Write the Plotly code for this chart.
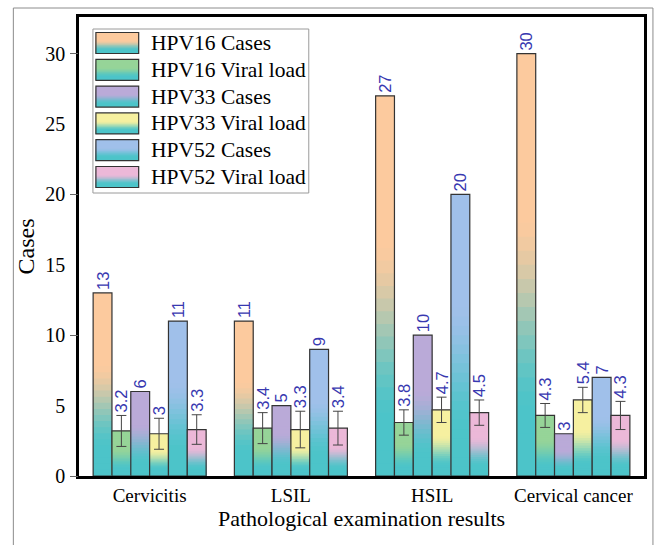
import plotly.graph_objects as go

# ---------------- data ----------------
categories = ["Cervicitis", "LSIL", "HSIL", "Cervical cancer"]
series_names = ["HPV16 Cases", "HPV16 Viral load", "HPV33 Cases",
                "HPV33 Viral load", "HPV52 Cases", "HPV52 Viral load"]
hpv16_cases = [13, 11, 27, 30]
hpv16_vl = [3.2, 3.4, 3.8, 4.3]
hpv16_vl_err = [1.1, 1.1, 0.9, 0.85]
hpv33_cases = [6, 5, 10, 3]
hpv33_vl = [3.0, 3.3, 4.7, 5.4]
hpv33_vl_err = [1.1, 1.3, 0.9, 0.9]
hpv52_cases = [11, 9, 20, 7]
hpv52_vl = [3.3, 3.4, 4.5, 4.3]
hpv52_vl_err = [1.05, 1.2, 0.9, 1.0]
y_ticks = [0, 5, 10, 15, 20, 25, 30]

series_values = [hpv16_cases, hpv16_vl, hpv33_cases, hpv33_vl, hpv52_cases, hpv52_vl]
series_errors = [None, hpv16_vl_err, None, hpv33_vl_err, None, hpv52_vl_err]

# ---------------- style ----------------
TEAL = (76, 196, 201)
TOPS = [(252, 202, 158), (150, 212, 152), (186, 170, 216),
        (246, 240, 160), (160, 192, 234), (236, 184, 216)]
LABEL_COLOR = "#3838b0"
SERIF = "Liberation Serif, Times New Roman, serif"
SANS = "Liberation Sans, Arial, sans-serif"
K = 30  # gradient steps


def grad(top, t):
    stops = [(0.0, TEAL), (0.15, TEAL), (0.62, top), (1.0, top)]
    for (t0, c0), (t1, c1) in zip(stops[:-1], stops[1:]):
        if t <= t1:
            f = 0 if t1 == t0 else (t - t0) / (t1 - t0)
            f = f * f * (3 - 2 * f)
            c = [round(a + (b - a) * f) for a, b in zip(c0, c1)]
            return "rgb(%d,%d,%d)" % tuple(c)
    return "rgb(%d,%d,%d)" % top


fig = go.Figure()

for s, (vals, errs, top) in enumerate(zip(series_values, series_errors, TOPS)):
    og = str(s)
    # gradient fill: nested bars from tallest to shortest
    for j in range(K, 0, -1):
        fig.add_trace(go.Bar(
            x=categories, y=[v * j / K for v in vals], offsetgroup=og,
            marker=dict(color=grad(top, (j - 0.5) / K), line=dict(width=0)),
            showlegend=False, hoverinfo="skip"))
    # outline (+ error bars)
    outline = dict(
        x=categories, y=vals, offsetgroup=og, name=series_names[s],
        marker=dict(color="rgba(0,0,0,0)", line=dict(color="#333333", width=1.2)),
        showlegend=False, cliponaxis=False)
    if errs is None:
        outline.update(text=["%g" % v for v in vals], textposition="outside",
                       textangle=-90, constraintext="none",
                       textfont=dict(family=SANS, size=16.5, color=LABEL_COLOR))
    else:
        outline.update(error_y=dict(type="data", array=errs, visible=True,
                                    color="#444444", thickness=1, width=5))
    fig.add_trace(go.Bar(**outline))
    if errs is not None:
        fig.add_trace(go.Bar(
            x=categories, y=[v + e for v, e in zip(vals, errs)], offsetgroup=og,
            marker=dict(color="rgba(0,0,0,0)", line=dict(width=0)),
            text=["%g" % v for v in vals], textposition="outside",
            textangle=-90, constraintext="none", cliponaxis=False,
            textfont=dict(family=SANS, size=16.5, color=LABEL_COLOR),
            showlegend=False, hoverinfo="skip"))

# helper trace for the secondary (tick-only) y axis
fig.add_trace(go.Scatter(x=[categories[0]], y=[None], yaxis="y2",
                         showlegend=False, hoverinfo="skip"))

# ---------------- custom legend ----------------
W, H = 659, 545
L, R, T, B = 79, 12, 17, 69
PW, PH = W - L - R, H - T - B


def px(x):
    return (x - L) / PW


def py(y):
    return (H - B - y) / PH


shapes = []
annotations = []
# outer gray frame of the figure
shapes.append(dict(type="rect", xref="paper", yref="paper",
                   x0=px(13), x1=px(656), y0=py(8), y1=py(560),
                   line=dict(color="#8c8c8c", width=1), fillcolor="rgba(0,0,0,0)",
                   layer="below"))
# legend box
shapes.append(dict(type="rect", xref="paper", yref="paper",
                   x0=px(93), x1=px(310), y0=py(29), y1=py(193),
                   line=dict(color="#9a9a9a", width=1), fillcolor="white"))
for i, (name, top) in enumerate(zip(series_names, TOPS)):
    y_top = 32.5 + 26.8 * i
    y_bot = y_top + 21
    for j in range(K, 0, -1):
        shapes.append(dict(type="rect", xref="paper", yref="paper",
                           x0=px(96), x1=px(139), y0=py(y_bot),
                           y1=py(y_bot - (y_bot - y_top) * j / K),
                           line=dict(width=0), fillcolor=grad(top, (j - 0.5) / K)))
    shapes.append(dict(type="rect", xref="paper", yref="paper",
                       x0=px(96), x1=px(139), y0=py(y_bot), y1=py(y_top),
                       line=dict(color="#333333", width=1.2), fillcolor="rgba(0,0,0,0)"))
    annotations.append(dict(xref="paper", yref="paper", x=px(149), y=py((y_top + y_bot) / 2),
                            text=name, showarrow=False, xanchor="left", yanchor="middle",
                            font=dict(family=SERIF, size=21.5, color="black")))

fig.update_layout(
    width=W, height=H,
    margin=dict(l=L, r=R, t=T, b=B, pad=0),
    paper_bgcolor="white", plot_bgcolor="white",
    barmode="group", bargap=0.2, bargroupgap=0,
    showlegend=False,
    shapes=shapes, annotations=annotations,
    xaxis=dict(range=[-0.5, 3.5], showline=True, mirror=True, linecolor="black",
               linewidth=2.5, ticks="", showgrid=False,
               tickfont=dict(family=SERIF, size=19, color="black"),
               title=dict(text="Pathological examination results", standoff=6,
                          font=dict(family=SERIF, size=22, color="black"))),
    yaxis=dict(range=[0, 32.6], tickvals=y_ticks, showline=True, mirror=True,
               linecolor="black", linewidth=2.5, ticks="", showgrid=False,
               zeroline=False, ticklabelstandoff=7,
               tickfont=dict(family=SERIF, size=20, color="black"),
               title=dict(text="Cases", standoff=4,
                          font=dict(family=SERIF, size=24, color="black"))),
    yaxis2=dict(range=[0, 32.6], overlaying="y", side="left", dtick=10, tick0=0,
                ticks="outside", ticklen=8, tickcolor="#666666", tickwidth=1,
                showticklabels=False, showgrid=False, zeroline=False, showline=False),
)

fig.write_html("out.html", config={"displayModeBar": False},
               post_script="document.body.style.margin='0';")
